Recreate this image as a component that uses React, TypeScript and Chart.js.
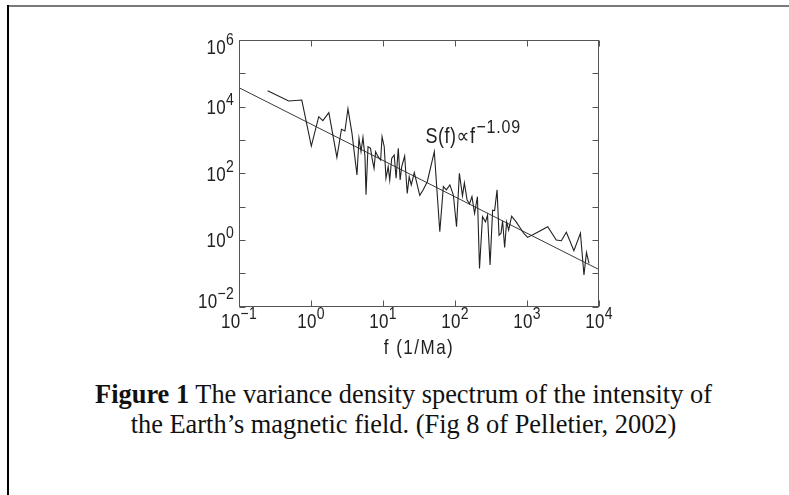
import React, { useEffect, useRef } from "react";
import { Chart, registerables } from "chart.js";

Chart.register(...registerables);

// Variance density spectrum
const spectrumFreq = [
  0.25, 0.49, 0.745, 1.01, 1.28, 1.46, 1.77, 2.29, 2.65, 2.96, 3.26, 3.71, 4.35, 4.64, 4.95, 5.27,
  5.62, 5.81, 6.19, 6.71, 7.05, 7.51, 7.89, 8.55, 9.27, 9.71, 10.4, 11.0, 11.8, 12.4, 13.2, 14.3,
  15.2, 16.3, 17.3, 18.2, 20.0, 21.7, 23.1, 24.7, 27.2, 29.9, 32.4, 36.2, 41.2, 51.6, 61.5, 68.9,
  75.9, 84.9, 95, 105, 115, 127, 135, 147, 159, 172, 187, 205, 219, 241, 265, 283, 307, 333, 355,
  384, 409, 436, 458, 489, 521, 556, 612, 707, 899, 1020, 1320, 1940, 2550, 3000, 3520, 4480, 5520,
  6180, 6700, 7260,
];
const spectrumPower = [
  30200, 14800, 15800, 660, 5000, 3800, 6600, 300, 2100, 1860, 8700, 1580, 89, 1120, 447, 1200,
  316, 23, 630, 560, 282, 141, 447, 316, 251, 1260, 630, 71, 158, 63, 282, 355,
  71, 560, 63, 158, 331, 25, 79, 45, 105, 45, 22, 32, 56, 447, 1.78, 40,
  32, 45, 22, 2.5, 100, 21, 52, 16, 12, 20, 6.3, 20, 0.14, 5.0, 3.5, 5.6, 0.18, 7.9, 7.6,
  32, 1.4, 1.6, 3.8, 0.6, 3.5, 2.0, 5.2, 3.5, 1.6, 1.2, 1.6, 2.5, 1.0, 0.95, 1.7, 0.48, 1.6,
  0.089, 0.42, 0.2,
];

// Power-law fit S(f) ∝ f^-1.09 (end points)
const fitFreq = [0.1, 10000];
const fitPower = [37000, 0.13];

// Axis decades
const xTickExponents = [-1, 0, 1, 2, 3, 4];
const yTickExponents = [-2, -1, 0, 1, 2, 3, 4, 5, 6];
const yLabelExponents = [-2, 0, 2, 4, 6];

const xTitle = "f (1/Ma)";
const fitLabel = "S(f)\u221Df";
const fitLabelExp = "\u22121.09";
const fitLabelAt = { f: 39, s: 810 };

const captionBold = "Figure 1";
const captionLine1 = " The variance density spectrum of the intensity of";
const captionLine2 = "the Earth\u2019s magnetic field. (Fig 8 of Pelletier, 2002)";

const SANS = '"Liberation Sans", "DejaVu Sans", sans-serif';
const STRETCH = 1.18;
const INK = "#222";

function drawStretched(ctx: CanvasRenderingContext2D, text: string, x: number, y: number, size: number, spacing = 0) {
  ctx.save();
  ctx.translate(x, y);
  ctx.scale(1, STRETCH);
  ctx.font = `${size}px ${SANS}`;
  (ctx as any).letterSpacing = `${spacing}px`;
  ctx.textAlign = "left";
  ctx.textBaseline = "alphabetic";
  ctx.fillText(text, 0, 0);
  ctx.restore();
}

function measure(ctx: CanvasRenderingContext2D, text: string, size: number, spacing = 0) {
  ctx.save();
  ctx.font = `${size}px ${SANS}`;
  (ctx as any).letterSpacing = `${spacing}px`;
  const w = ctx.measureText(text).width;
  ctx.restore();
  return w;
}

function expText(e: number) {
  return e < 0 ? "\u2212" + Math.abs(e) : String(e);
}

const BASE = 17;
const SUP = 14;
const SP = 0.3;

const framePlugin = {
  id: "idlFrame",
  afterDatasetsDraw(chart: any) {
    const { ctx, chartArea: a, scales } = chart;
    const xs = scales.x;
    const ys = scales.y;
    ctx.save();
    // frame
    ctx.strokeStyle = "#555";
    ctx.lineWidth = 1;
    const L = Math.round(a.left) + 0.5;
    const R = Math.round(a.right) - 0.5;
    const T = Math.round(a.top) + 0.5;
    const B = Math.round(a.bottom) - 0.5;
    ctx.strokeRect(L, T, R - L, B - T);
    // inward ticks
    const tl = 6;
    ctx.beginPath();
    xTickExponents.forEach((e) => {
      const px = Math.round(xs.getPixelForValue(Math.pow(10, e))) + 0.5;
      ctx.moveTo(px, B);
      ctx.lineTo(px, B - tl);
      ctx.moveTo(px, T);
      ctx.lineTo(px, T + tl);
    });
    yTickExponents.forEach((e) => {
      const py = Math.round(ys.getPixelForValue(Math.pow(10, e))) + 0.5;
      ctx.moveTo(L, py);
      ctx.lineTo(L + tl, py);
      ctx.moveTo(R, py);
      ctx.lineTo(R - tl, py);
    });
    ctx.stroke();

    ctx.fillStyle = INK;
    const digitH = BASE * 0.716 * STRETCH;
    // x labels
    xTickExponents.forEach((e) => {
      const px = xs.getPixelForValue(Math.pow(10, e));
      const w10 = measure(ctx, "10", BASE, SP);
      const we = measure(ctx, expText(e), SUP, SP);
      const x0 = px - (w10 + we) / 2;
      const base = a.bottom + 21;
      drawStretched(ctx, "10", x0, base, BASE, SP);
      drawStretched(ctx, expText(e), x0 + w10, base - 9, SUP, SP);
    });
    // y labels
    yLabelExponents.forEach((e) => {
      let py = ys.getPixelForValue(Math.pow(10, e));
      if (e === 6) py += 7;
      if (e === -2) py -= 6;
      const w10 = measure(ctx, "10", BASE, SP);
      const we = measure(ctx, expText(e), SUP, SP);
      const right = a.left - 5;
      const x0 = right - we - w10;
      const base = py + digitH / 2;
      drawStretched(ctx, "10", x0, base, BASE, SP);
      drawStretched(ctx, expText(e), x0 + w10, base - 9, SUP, SP);
    });
    // axis title
    const tw = measure(ctx, xTitle, 17, 1.5);
    drawStretched(ctx, xTitle, (a.left + a.right) / 2 - tw / 2, a.bottom + 47, 17, 1.5);
    // fit label
    const lx = xs.getPixelForValue(fitLabelAt.f);
    const ly = ys.getPixelForValue(fitLabelAt.s);
    const lw = measure(ctx, fitLabel, 18, 0.5);
    drawStretched(ctx, fitLabel, lx, ly, 18, 0.5);
    drawStretched(ctx, fitLabelExp, lx + lw + 1, ly - 10, 16, 0.8);
    ctx.restore();
  },
};

export default function App() {
  const ref = useRef<HTMLCanvasElement | null>(null);
  useEffect(() => {
    if (!ref.current) return;
    const spectrum = spectrumFreq.map((f, i) => ({ x: f, y: spectrumPower[i] }));
    const fit = fitFreq.map((f, i) => ({ x: f, y: fitPower[i] }));
    const chart = new Chart(ref.current, {
      type: "line",
      data: {
        datasets: [
          { label: "spectrum", data: spectrum, borderColor: "#222", borderWidth: 1.1, pointRadius: 0, tension: 0 },
          { label: "fit", data: fit, borderColor: "#3a3a3a", borderWidth: 1, pointRadius: 0, tension: 0 },
        ],
      },
      options: {
        responsive: false,
        animation: false,
        devicePixelRatio: 1,
        layout: { padding: { left: 89, right: 51, top: 20, bottom: 63.3 } },
        plugins: { legend: { display: false }, tooltip: { enabled: false }, title: { display: false } },
        scales: {
          x: { type: "logarithmic", min: 0.1, max: 10000, display: false },
          y: { type: "logarithmic", min: 0.01, max: 1000000, display: false },
        },
      },
      plugins: [framePlugin],
    });
    return () => chart.destroy();
  }, []);

  const lineStyle: React.CSSProperties = {
    position: "absolute",
    left: 13,
    width: 781,
    textAlign: "center",
    fontFamily: '"Liberation Serif", "Times New Roman", serif',
    fontSize: 26.4,
    lineHeight: "28.5px",
    color: "#111",
    whiteSpace: "nowrap",
    transform: "scaleY(1.05)",
    transformOrigin: "top",
  };

  return (
    <div style={{ position: "absolute", left: 0, top: 0, width: 789, height: 495, background: "#fff", overflow: "hidden" }}>
      <div style={{ position: "absolute", left: 7, top: 5, width: 782, height: 2, background: "#7a7a7a" }} />
      <div style={{ position: "absolute", left: 7, top: 5, width: 2, height: 490, background: "#000" }} />
      <canvas ref={ref} width={500} height={350} style={{ position: "absolute", left: 150, top: 20, width: 500, height: 350 }} />
      <div style={{ ...lineStyle, top: 379 }}>
        <b>{captionBold}</b>
        {captionLine1}
      </div>
      <div style={{ ...lineStyle, top: 408.5 }}>{captionLine2}</div>
    </div>
  );
}
